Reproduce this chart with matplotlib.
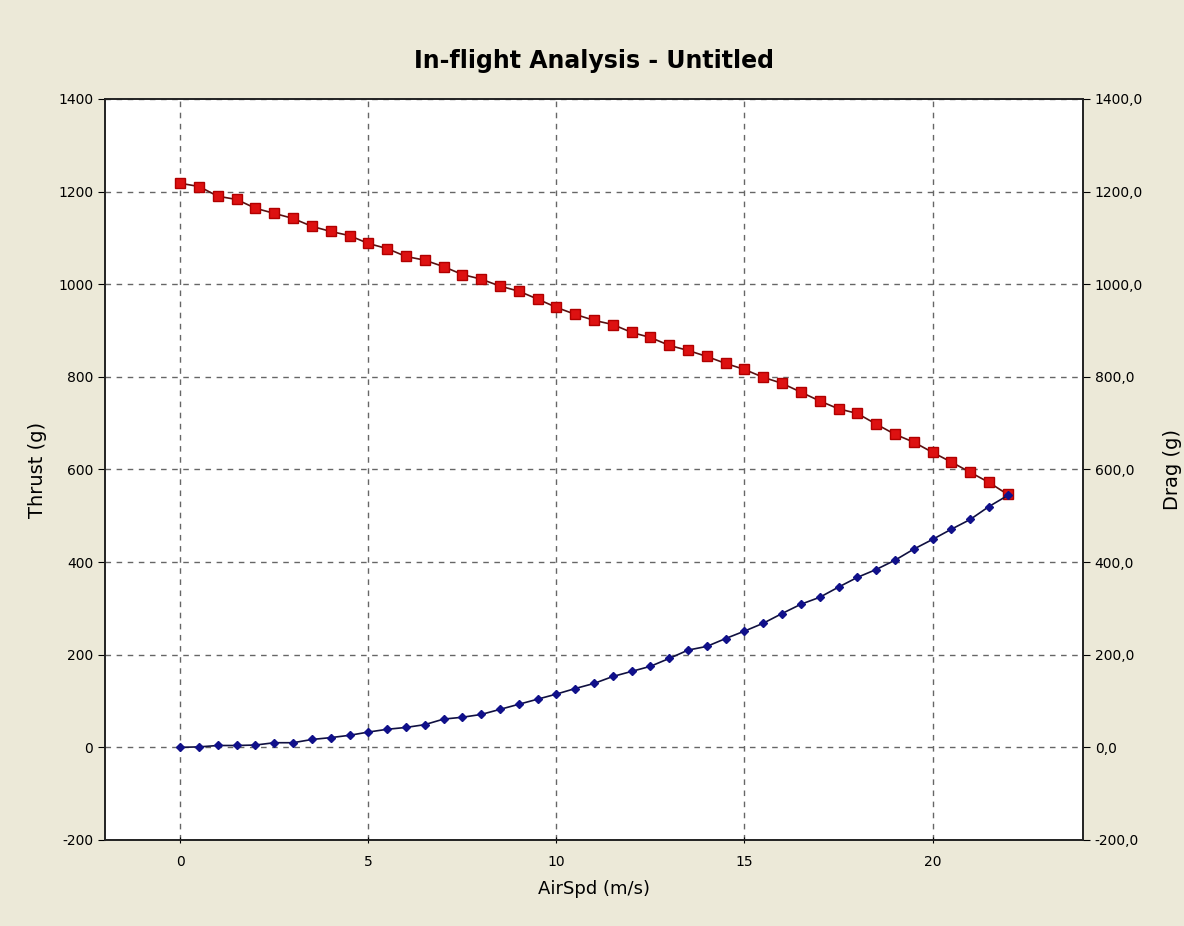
import matplotlib.pyplot as plt
from matplotlib.ticker import FuncFormatter

airspeed = [i * 0.5 for i in range(45)]
thrust = [1218, 1211, 1190, 1183, 1164, 1153, 1142, 1125, 1114, 1105,
          1088, 1077, 1060, 1052, 1038, 1021, 1011, 996, 985, 968,
          950, 935, 922, 913, 896, 885, 868, 857, 844, 829,
          816, 799, 786, 767, 748, 731, 721, 698, 676, 659,
          637, 616, 594, 572, 546]
drag = [0, 1, 4, 4, 5, 10, 10, 17, 21, 26,
        33, 39, 43, 49, 61, 65, 71, 82, 93, 104,
        115, 127, 138, 153, 164, 175, 192, 210, 218, 235,
        251, 268, 289, 309, 324, 346, 367, 384, 404, 428,
        449, 471, 492, 520, 544]

plt.rcParams["axes.unicode_minus"] = False

bg = "#ECE9D8"
fig = plt.figure(figsize=(11.84, 9.26), dpi=100, facecolor=bg)
ax = fig.add_axes([0.0887, 0.0929, 0.826, 0.8002])
ax2 = ax.twinx()

ax.plot(airspeed, thrust, color="#5a1010", linewidth=1.2, marker="s", markersize=7,
        markerfacecolor="#dd1111", markeredgecolor="#b00000", zorder=3)
ax2.plot(airspeed, drag, color="#101040", linewidth=1.2, marker="D", markersize=4.5,
         markerfacecolor="#10108a", markeredgecolor="#10108a", zorder=3)

for a in (ax, ax2):
    a.set_xlim(-2, 24)
    a.set_ylim(-200, 1400)
    a.set_yticks(range(-200, 1401, 200))
ax.set_xticks(range(0, 21, 5))
ax.grid(True, linestyle=(0, (4, 4)), color="#666666", linewidth=1)
ax.set_facecolor("white")

ax.tick_params(axis="both", labelsize=10, color="black", length=5)
ax.tick_params(axis="x", direction="inout", pad=8)
ax2.tick_params(axis="y", labelsize=10, length=5)
ax2.yaxis.set_major_formatter(FuncFormatter(lambda v, p: f"{v:.1f}".replace(".", ",")))

for a in (ax, ax2):
    for s in a.spines.values():
        s.set_color("#222222")
        s.set_linewidth(1.2)

ax.set_title("In-flight Analysis - Untitled", fontsize=17, fontweight="bold", pad=22)
ax.set_xlabel("AirSpd (m/s)", fontsize=13, labelpad=8)
ax.set_ylabel("Thrust (g)", fontsize=14, labelpad=8)
ax2.set_ylabel("Drag (g)", fontsize=14, labelpad=14)

fig.savefig("out.png", dpi=100, facecolor=bg)
